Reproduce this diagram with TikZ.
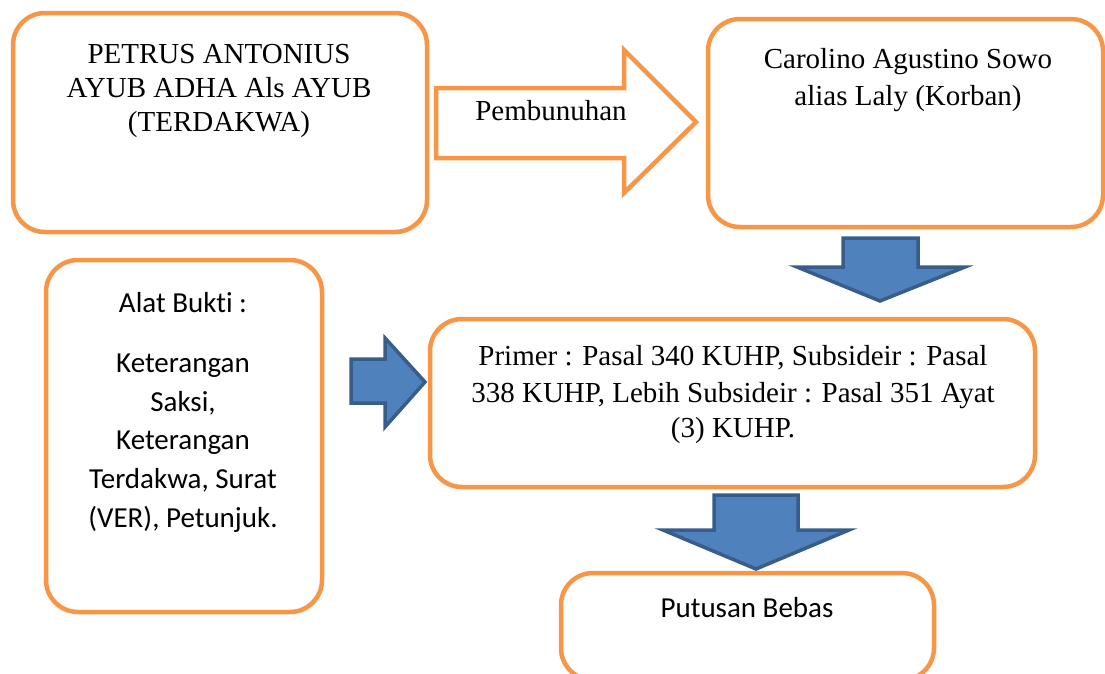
\documentclass[tikz,border=0pt]{standalone}
\usepackage{fontspec}
\setmainfont{Liberation Serif}
\newfontfamily\calib[Ligatures=NoCommon]{Carlito}
\definecolor{orng}{HTML}{F79646}
\definecolor{bfill}{HTML}{4F81BD}
\definecolor{bline}{HTML}{385D8A}
\begin{document}
\begin{tikzpicture}[x=1pt,y=-1pt,
  box/.style={draw=orng, line width=4.5pt, rounded corners=32pt, inner sep=0pt, fill=white},
  tnr/.style={font=\fontsize{29}{35}\selectfont, anchor=base, inner sep=0pt},
  cal/.style={font=\calib\fontsize{29}{38}\selectfont, anchor=base, inner sep=0pt},
  bluearrow/.style={fill=bfill, draw=bline, line width=3.5pt, line join=miter},
  orngarrow/.style={fill=white, draw=orng, line width=4.5pt, line join=miter}]
\useasboundingbox (0,0) rectangle (1105,673);

% boxes
\node[box, minimum width=414pt, minimum height=219pt] (b1) at (220,122.5) {};
\node[box, minimum width=395pt, minimum height=208pt] (b2) at (905.5,123) {};
\node[box, minimum width=276pt, minimum height=352pt] (alat) at (184,436) {};
\node[box, minimum width=605pt, minimum height=168pt] (mid) at (732.5,403) {};
\node[box, minimum width=373pt, minimum height=107pt] (put) at (747.5,626.5) {};

% texts
\node[tnr] (b1a) at (219,63) {PETRUS ANTONIUS};
\node[tnr] (b1b) at (219,97) {AYUB ADHA Als AYUB};
\node[tnr] (b1c) at (219,131) {(TERDAKWA)};
\node[tnr] (b2a) at (908,68) {Carolino Agustino Sowo};
\node[tnr] (b2b) at (908,105) {alias Laly (Korban)};
\node[cal] (ala) at (183,312) {Alat Bukti :};
\node[cal] (alb) at (183,372) {Keterangan};
\node[cal] (alc) at (183,411) {Saksi,};
\node[cal] (ald) at (183,449) {Keterangan};
\node[cal] (ale) at (183,488) {Terdakwa, Surat};
\node[cal] (alf) at (183,527) {(VER), Petunjuk.};
\node[tnr] (mida) at (733,365) {Primer : Pasal 340 KUHP, Subsideir : Pasal};
\node[tnr] (midb) at (733,402) {338 KUHP, Lebih Subsideir : Pasal 351 Ayat};
\node[tnr] (midc) at (733,437) {(3) KUHP.};
\node[cal] (puta) at (747,617) {Putusan Bebas};

% block arrows
\draw[orngarrow] (436,88) -- (624,88) -- (624,50) -- (696,122) -- (624,193) -- (624,158) -- (436,158) -- cycle;
\node[tnr] (pemb) at (551,120) {Pembunuhan};
\draw[bluearrow] (843,238) -- (918,238) -- (918,267) -- (965,267) -- (880,301) -- (797,267) -- (843,267) -- cycle;
\draw[bluearrow] (351,359) -- (385,359) -- (385,338) -- (425,382) -- (385,427) -- (385,403) -- (351,403) -- cycle;
\draw[bluearrow] (714,495) -- (798,495) -- (798,530) -- (849,530) -- (756,569) -- (663,530) -- (714,530) -- cycle;
\end{tikzpicture}
\end{document}
